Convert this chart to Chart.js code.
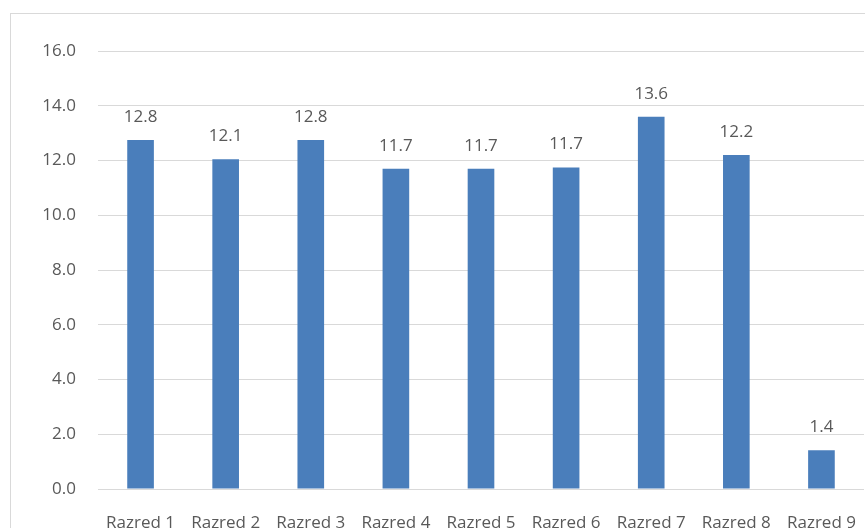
<!DOCTYPE html>
<html>
<head>
<meta charset="utf-8">
<script src="https://cdn.jsdelivr.net/npm/chart.js@4/dist/chart.umd.min.js"></script>
<style>
  html, body { margin: 0; padding: 0; background: #fff; overflow: hidden; }
  #wrap { position: relative; width: 865px; height: 528px; }
  #frame { position: absolute; left: 10px; top: 13px; width: 900px; height: 600px; border: 1px solid #d9d9d9; box-sizing: border-box; }
  canvas { position: absolute; left: 0; top: 0; }
</style>
</head>
<body>
<div id="wrap">
  <div id="frame"></div>
  <canvas id="chart" width="865" height="528"></canvas>
</div>
<script>
const categories = ['Razred 1', 'Razred 2', 'Razred 3', 'Razred 4', 'Razred 5', 'Razred 6', 'Razred 7', 'Razred 8', 'Razred 9'];
const values = [12.75, 12.05, 12.75, 11.7, 11.7, 11.74, 13.6, 12.2, 1.42];
const yTicks = [0, 2, 4, 6, 8, 10, 12, 14, 16];

const textColor = '#595959';
const fontFamily = "'Open Sans', 'Noto Sans', sans-serif";

// values written above each bar
const barLabels = {
  id: 'barLabels',
  afterDatasetsDraw (chart) {
    const ctx = chart.ctx;
    const meta = chart.getDatasetMeta(0);
    ctx.save();
    ctx.font = '17px ' + fontFamily;
    ctx.fillStyle = textColor;
    ctx.textAlign = 'center';
    ctx.textBaseline = 'middle';
    meta.data.forEach((bar, i) => {
      ctx.fillText(values[i].toFixed(1), bar.x, bar.y - 23);
    });
    ctx.restore();
  }
};

new Chart(document.getElementById('chart').getContext('2d'), {
  type: 'bar',
  data: {
    labels: categories,
    datasets: [{
      data: values,
      backgroundColor: '#4a7ebb',
      barPercentage: 0.313,
      categoryPercentage: 1
    }]
  },
  options: {
    responsive: false,
    animation: false,
    layout: { padding: { top: 51, right: 1, left: 0, bottom: 0 } },
    plugins: {
      legend: { display: false },
      tooltip: { enabled: false }
    },
    scales: {
      x: {
        grid: { display: false },
        border: { display: false },
        ticks: {
          color: textColor,
          font: { family: fontFamily, size: 17 },
          padding: 16,
          maxRotation: 0,
          autoSkip: false
        },
        afterFit (scale) {
          scale.height = 39;
          scale.paddingLeft = 0;
          scale.paddingRight = 0;
        }
      },
      y: {
        min: 0,
        max: 16,
        afterBuildTicks (scale) { scale.ticks = yTicks.map(v => ({ value: v })); },
        grid: { color: '#d9d9d9', lineWidth: 1, drawTicks: false },
        border: { display: false },
        ticks: {
          color: textColor,
          font: { family: fontFamily, size: 17 },
          padding: 22,
          callback: v => v.toFixed(1)
        },
        afterFit (scale) { scale.width = 98; }
      }
    }
  },
  plugins: [barLabels]
});
</script>
</body>
</html>
